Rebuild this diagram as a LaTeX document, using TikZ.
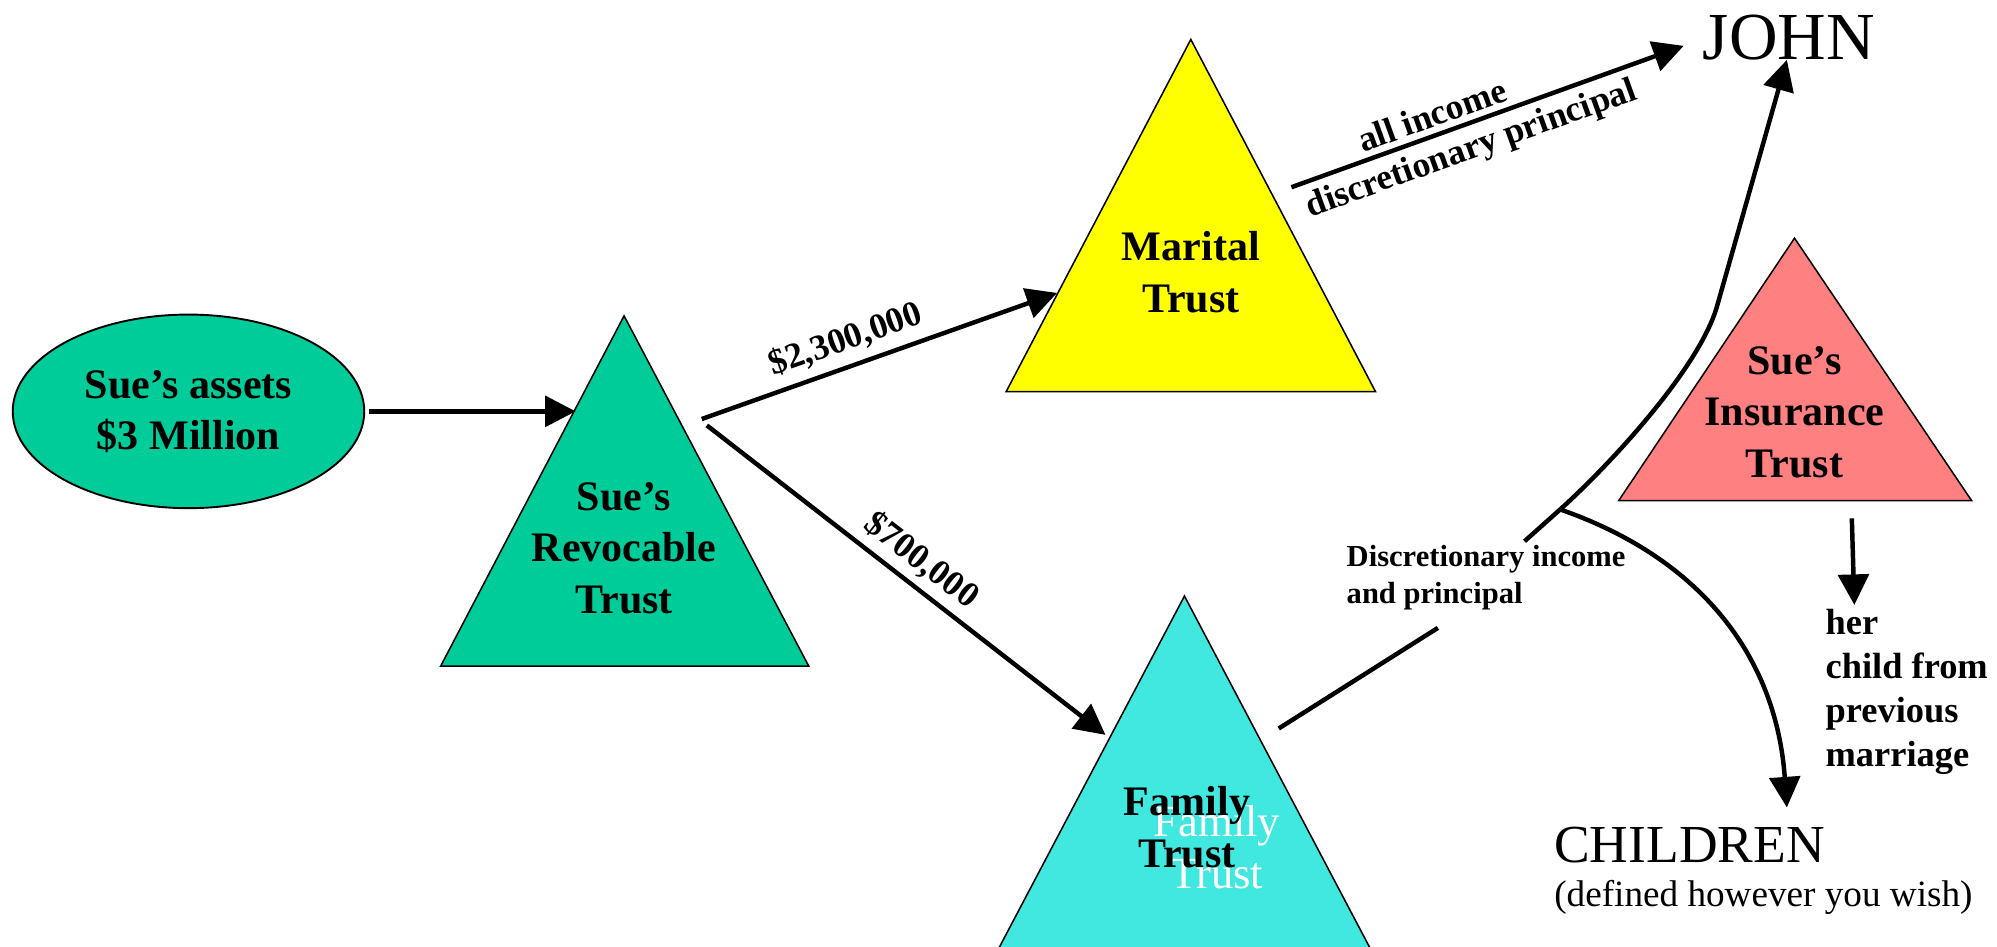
\documentclass[tikz,border=0pt]{standalone}
\usepackage{fontspec}
\setmainfont{Liberation Serif}
\usetikzlibrary{arrows.meta,shapes.geometric}
\definecolor{revteal}{RGB}{0,204,153}
\definecolor{maritalyellow}{RGB}{255,255,0}
\definecolor{familycyan}{RGB}{64,232,224}
\definecolor{insurancepink}{RGB}{255,128,128}
\begin{document}
\begin{tikzpicture}[x=0.5pt,y=-0.5pt,
  trust/.style={draw=black, line width=0.6pt, line join=miter},
  % multi-line labels are placed by the baseline of their last line
  trustlabel/.style={font=\fontsize{16.5}{20.2}\selectfont\bfseries, align=center, anchor=base, inner sep=0pt},
  flow/.style={line width=1.75pt, -{Triangle[length=12pt,width=12pt]}},
  plainflow/.style={line width=1.75pt},
  edgelabel/.style={font=\fontsize{14}{17}\selectfont\bfseries, sloped},
  bignote/.style={anchor=base west, inner sep=0pt},
  sidenote/.style={anchor=base west, inner sep=0pt, align=left},
]
\useasboundingbox (0,0) rectangle (1568,743);

% --- source assets
\node[ellipse, draw=black, line width=0.75pt, fill=revteal,
      minimum width=138pt, minimum height=76pt, inner sep=0pt,
      font=\fontsize{16.5}{20.2}\selectfont\bfseries, align=center]
      (assets) at (148,323) {Sue’s assets\\\$3 Million};

% --- revocable trust
\coordinate (rev top) at (490,248);
\coordinate (rev left) at (346,523);
\coordinate (rev right) at (635,523);
\filldraw[trust, fill=revteal] (rev top) -- (rev right) -- (rev left) -- cycle;
\node[trustlabel] (revlabel) at (490,481.5) {Sue’s\\Revocable\\Trust};

% --- marital trust
\coordinate (mar top) at (935,31);
\coordinate (mar left) at (790,307.5);
\coordinate (mar right) at (1080,307.5);
\filldraw[trust, fill=maritalyellow] (mar top) -- (mar right) -- (mar left) -- cycle;
\node[trustlabel] (marlabel) at (935,245) {Marital\\Trust};

% --- family trust (runs off the bottom edge)
\coordinate (fam top) at (930,468);
\coordinate (fam left) at (782.4,748);
\coordinate (fam right) at (1077.6,748);
\begin{scope}
\clip (0,0) rectangle (1568,743);
\filldraw[trust, fill=familycyan] (fam top) -- (fam right) -- (fam left) -- cycle;
\end{scope}
\node[trustlabel, font=\fontsize{17.5}{20.2}\selectfont, text=white] (famshadow) at (955.5,697.5) {Family\\Trust};
\node[trustlabel] (famlabel) at (932,681) {Family\\Trust};

% --- insurance trust
\coordinate (ins top) at (1409,187);
\coordinate (ins left) at (1271,393);
\coordinate (ins right) at (1548,393);
\filldraw[trust, fill=insurancepink] (ins top) -- (ins right) -- (ins left) -- cycle;
\node[trustlabel] (inslabel) at (1409,374.6) {Sue’s\\Insurance\\Trust};

% --- beneficiaries
\node[font=\fontsize{26.4}{30}\selectfont, anchor=base, inner sep=0pt] (john) at (1404.5,47) {JOHN};
\node[bignote, font=\fontsize{21}{25}\selectfont] (children) at (1220,677) {CHILDREN};
\node[bignote, font=\fontsize{14.6}{17}\selectfont] (childnote) at (1220,712) {(defined however you wish)};
\node[sidenote, font=\fontsize{14.3}{17.25}\selectfont\bfseries] (heir) at (1433,602) {her\\child from\\previous\\marriage};
\node[sidenote, font=\fontsize{12}{14.5}\selectfont\bfseries] (share) at (1057,474) {Discretionary income\\and principal};

% --- connector end points
\coordinate (assets out) at (290,323);
\coordinate (rev in) at (452,323);
\coordinate (rev out a) at (551,329);
\coordinate (mar in) at (830,230);
\coordinate (rev out b) at (555,334);
\coordinate (fam in) at (868,577);
\coordinate (mar out) at (1014,147);
\coordinate (john side) at (1322,36);
\coordinate (fam out) at (1004,572);
\coordinate (share low) at (1129,493);
\coordinate (share high) at (1197,425);
\coordinate (fork) at (1225,400);
\coordinate (bend) at (1348,241);
\coordinate (john foot) at (1403,47);
\coordinate (children top) at (1403,634);
\coordinate (ins out) at (1454,407);
\coordinate (heir top) at (1456,475);

% --- connectors
\draw[flow] (assets out) -- (rev in);
\draw[flow] (rev out a) -- node[edgelabel, pos=0.43, above, inner sep=3.5pt] {\$2,300,000} (mar in);
\draw[flow] (rev out b) -- node[edgelabel, pos=0.5, above, inner sep=2.8pt] {\$700,000} (fam in);
\draw[flow] (mar out) --
  node[edgelabel, pos=0.376, above, inner sep=2.2pt] {all income}
  node[edgelabel, pos=0.437, below, inner sep=3pt] {discretionary principal} (john side);
\draw[plainflow] (fam out) -- (share low);
\draw[flow] (share high) -- (fork) .. controls (1265,364) and (1334,289) .. (bend) -- (john foot);
\draw[flow] (fork) .. controls (1340,440) and (1395,520) .. (children top);
\draw[flow] (ins out) -- (heir top);
\end{tikzpicture}
\end{document}
